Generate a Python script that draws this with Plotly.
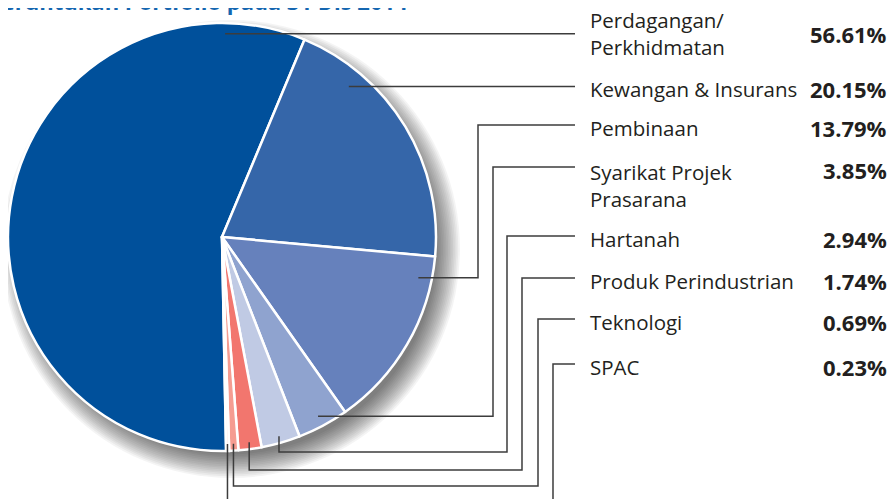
import math
import plotly.graph_objects as go

# ---------------- data ----------------
categories = ["Perdagangan/<br>Perkhidmatan", "Kewangan & Insurans", "Pembinaan",
              "Syarikat Projek<br>Prasarana", "Hartanah", "Produk Perindustrian",
              "Teknologi", "SPAC"]
values = [56.61, 20.15, 13.79, 3.85, 2.94, 1.74, 0.69, 0.23]
value_labels = ["56.61%", "20.15%", "13.79%", "3.85%", "2.94%", "1.74%", "0.69%", "0.23%"]
title_text = "Peruntukan Portfolio pada 31 Dis 2014"

# ---------------- style / layout ----------------
colors = ["#00509b", "#3566a9", "#6681bc", "#8fa3cf", "#c0cae4", "#f2766e", "#f59c91", "#fbe4df"]
OFF = 8                      # page body margin of the html page
W, H = 895 - OFF, 499 - OFF  # figure size so that it fills the window
CX, CY, R = 222.0, 237.0, 214.0
ROT = 178.9

# where each leader touches its slice (fraction across slice, radius fraction)
anchor_frac = [0.893, 0.24, 0.13, 0.5, 0.5, 0.5, 0.5, 0.5]
anchor_rad = [0.95, 0.92, 0.937, 0.95, 0.968, 0.968, 0.968, 0.968]
# text rows (pixel y of first text line centre) and leader end
row_y = [34, 86, 125, 167, 236, 278, 319, 364]
line_end_x = 575
elbow_x = [None, None, 478, 493, 507, 522, 538, 553]
low_y = [None, None, None, None, 452, 470, 486, 510]
LABEL_X, VALUE_X = 588, 889
TEXT_COLOR = "#231f20"
LINE_COLOR = "#3c3c3c"


def px(x):
    return (x - OFF) / W


def py(y):
    return 1 - (y - OFF) / H


fig = go.Figure()
fig.add_trace(go.Pie(
    labels=[c.replace("<br>", " ") for c in categories],
    values=values,
    sort=False,
    direction="clockwise",
    rotation=ROT,
    marker=dict(colors=colors, line=dict(color="white", width=2.5)),
    textinfo="none",
    hoverinfo="label+percent",
    showlegend=False,
    domain=dict(x=[px(CX - R), px(CX + R)], y=[py(CY + R), py(CY - R)]),
))

shapes = []
# soft drop shadow
for k in range(15):
    rr = R + 15 - k * 1.7
    ox, oy = 9, 12
    shapes.append(dict(type="circle", xref="paper", yref="paper", layer="below",
                       x0=px(CX + ox - rr), x1=px(CX + ox + rr),
                       y0=py(CY + oy + rr), y1=py(CY + oy - rr),
                       fillcolor="rgba(0,0,0,0.045)", line=dict(width=0)))

# leader lines computed from slice angles
total = sum(values)
start = ROT
for i, v in enumerate(values):
    span = v / total * 360.0
    ang = math.radians(start + span * anchor_frac[i])
    start += span
    ax = CX + anchor_rad[i] * R * math.sin(ang)
    ay = CY - anchor_rad[i] * R * math.cos(ang)
    if elbow_x[i] is None:
        pts = [(ax, ay), (line_end_x, ay)]
    elif low_y[i] is None:
        pts = [(ax, ay), (elbow_x[i], ay), (elbow_x[i], row_y[i]), (line_end_x, row_y[i])]
    else:
        pts = [(ax, ay), (ax, low_y[i]), (elbow_x[i], low_y[i]),
               (elbow_x[i], row_y[i]), (line_end_x, row_y[i])]
    path = "M " + " L ".join(f"{px(x):.5f},{py(y):.5f}" for x, y in pts)
    shapes.append(dict(type="path", xref="paper", yref="paper", path=path,
                       line=dict(color=LINE_COLOR, width=1.5)))

annotations = []
LABEL_FONT = "Open Sans"
for i, (c, vl) in enumerate(zip(categories, value_labels)):
    yc = row_y[i] + 3
    if i == 0:
        yc = row_y[i]
    multi = "<br>" in c
    lab_y = yc if (not multi or i == 0) else yc - 14
    annotations.append(dict(
        text=c, x=px(LABEL_X), y=py(lab_y), xref="paper", yref="paper",
        xanchor="left", yanchor="top" if (multi and i != 0) else "middle",
        align="left", showarrow=False,
        font=dict(family=LABEL_FONT, size=20.5, color=TEXT_COLOR)))
    annotations.append(dict(
        text=f"<b>{vl}</b>", x=px(VALUE_X), y=py(yc), xref="paper", yref="paper",
        xanchor="right", yanchor="middle", showarrow=False,
        font=dict(family=LABEL_FONT, size=22, color=TEXT_COLOR)))

annotations.append(dict(
    text=f"<b>{title_text}</b>", x=px(410), y=py(18), xref="paper", yref="paper",
    xanchor="right", yanchor="bottom", showarrow=False,
    font=dict(family=LABEL_FONT, size=22, color="#1466b0")))

fig.update_layout(
    width=W, height=H, margin=dict(l=0, r=0, t=0, b=0),
    paper_bgcolor="white", plot_bgcolor="white",
    shapes=shapes, annotations=annotations,
)
fig.write_html("out.html")
